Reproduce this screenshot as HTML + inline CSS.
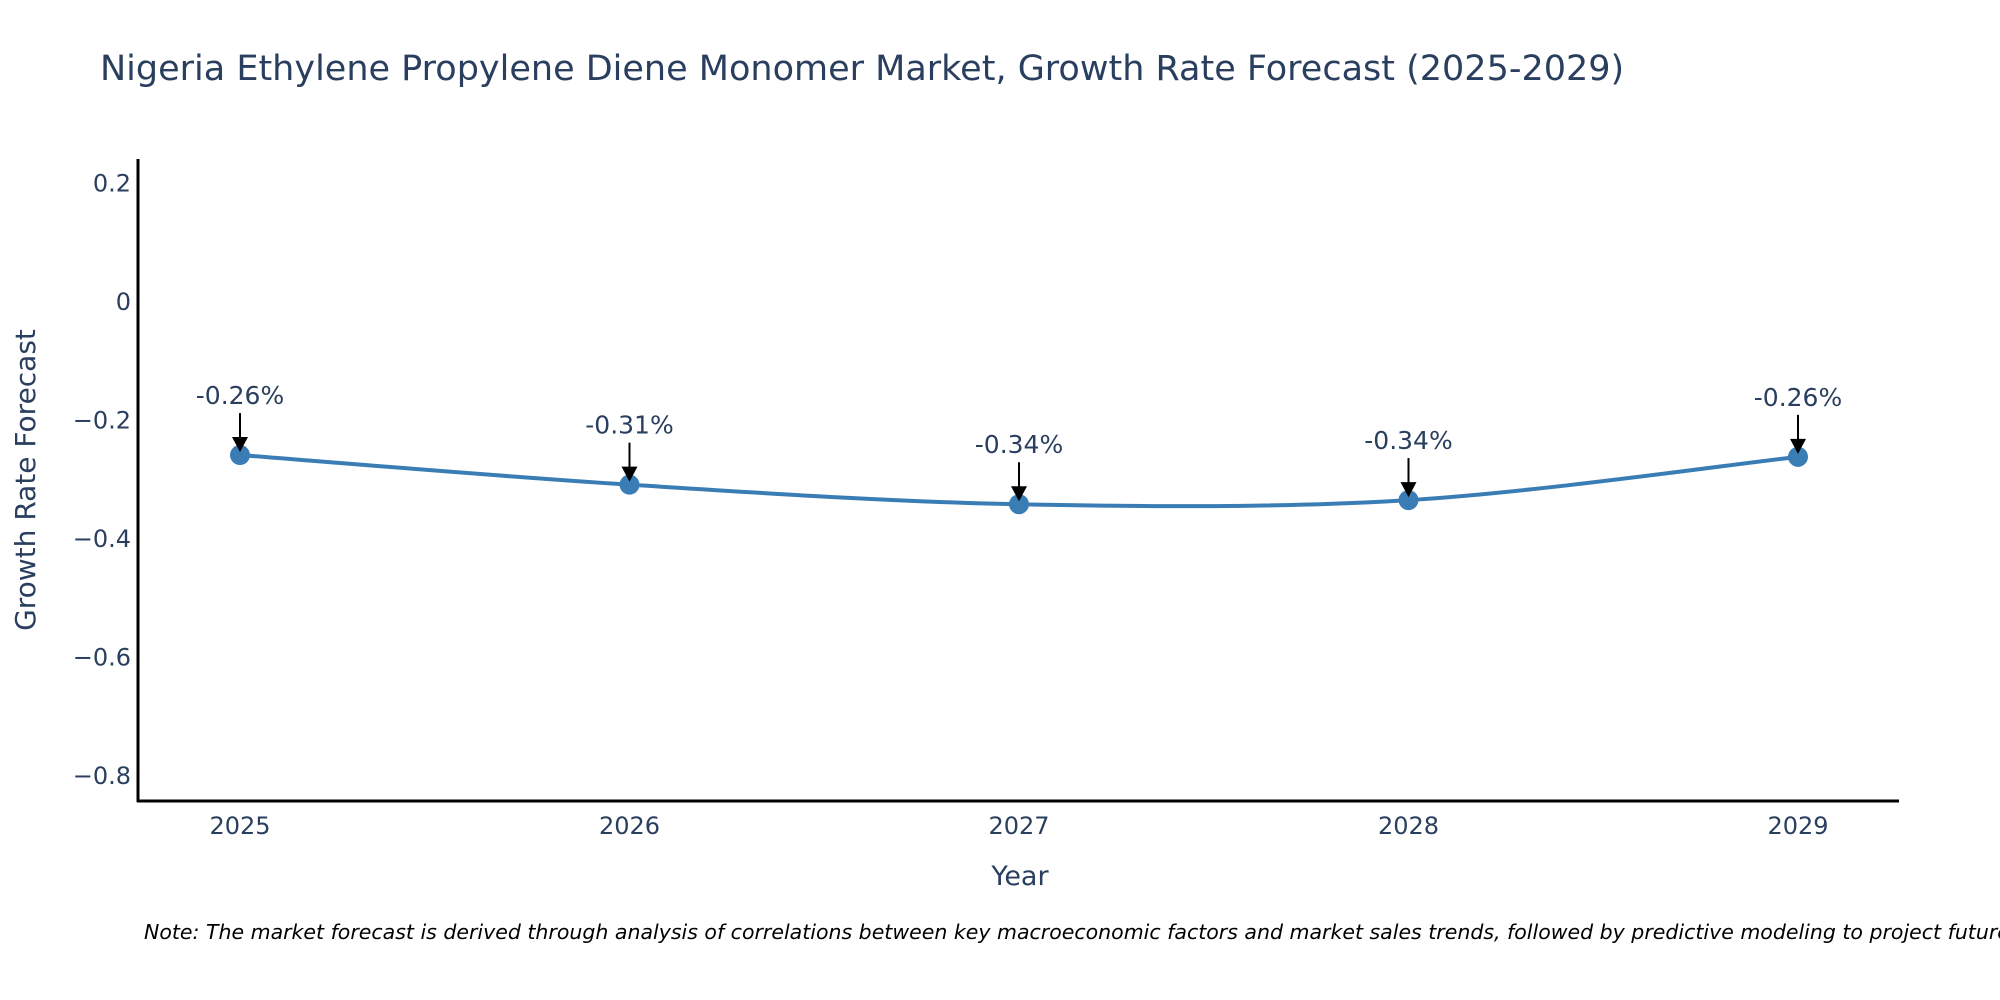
<!DOCTYPE html>
<html><head><meta charset="utf-8"><style>
body{margin:0;background:#fff;}
svg{display:block;font-family:"DejaVu Sans","Liberation Sans",sans-serif;}
</style></head><body>
<svg id="chart" width="2000" height="1000" viewBox="0 0 2000 1000">
<text x="100" y="80" font-size="35" fill="#2a3f5f">Nigeria Ethylene Propylene Diene Monomer Market, Growth Rate Forecast (2025-2029)</text>
<g id="yticks"></g><g id="xticks"></g>
<line x1="138" y1="159" x2="138" y2="802" stroke="#000" stroke-width="3"/>
<line x1="137" y1="801" x2="1899" y2="801" stroke="#000" stroke-width="3"/>
<g id="series"></g>
<text x="1020" y="885" font-size="27" fill="#2a3f5f" text-anchor="middle">Year</text>
<text transform="translate(35,480) rotate(-90)" font-size="28" fill="#2a3f5f" text-anchor="middle">Growth Rate Forecast</text>
<text x="144" y="939" font-size="20.5" font-style="italic" fill="#000">Note: The market forecast is derived through analysis of correlations between key macroeconomic factors and market sales trends, followed by predictive modeling to project future sales.</text>
</svg>
<script>
const years=[2025,2026,2027,2028,2029];
const values=[-0.26,-0.31,-0.343,-0.336,-0.263];
const labels=["-0.26%","-0.31%","-0.34%","-0.34%","-0.26%"];
const yTicks=[0.2,0,-0.2,-0.4,-0.6,-0.8];
const yTickLabels=["0.2","0","\u22120.2","\u22120.4","\u22120.6","\u22120.8"];
const NS="http://www.w3.org/2000/svg";
function X(i){return 240+i*389.5;}
function Y(v){return 301-v*592.5;}
function mk(t,a,p){const e=document.createElementNS(NS,t);for(const k in a)e.setAttribute(k,a[k]);p.appendChild(e);return e;}
const yt=document.getElementById('yticks');
yTicks.forEach((v,i)=>{const t=mk('text',{x:131,y:Y(v)+9,'font-size':24,fill:'#2a3f5f','text-anchor':'end'},yt);


t.textContent=yTickLabels[i];});
const xt=document.getElementById('xticks');
years.forEach((y,i)=>{const t=mk('text',{x:X(i),y:834,'font-size':24,fill:'#2a3f5f','text-anchor':'middle'},xt);


t.textContent=y;});
const s=document.getElementById('series');
const P=values.map((v,i)=>[X(i),Y(v)]);
let d='M'+P[0][0]+','+P[0][1];
for(let i=0;i<P.length-1;i++){const p0=P[Math.max(i-1,0)],p1=P[i],p2=P[i+1],p3=P[Math.min(i+2,P.length-1)];const k=1/6;
d+=' C'+(p1[0]+(p2[0]-p0[0])*k)+','+(p1[1]+(p2[1]-p0[1])*k)+' '+(p2[0]-(p3[0]-p1[0])*k)+','+(p2[1]-(p3[1]-p1[1])*k)+' '+p2[0]+','+p2[1];}
const line=mk('path',{d:d,fill:'none',stroke:'#3a7db5','stroke-width':4},s);


P.forEach((p,i)=>{
const c=mk('circle',{cx:p[0],cy:p[1],r:10,fill:'#3a7db5'},s);


const a=mk('line',{x1:p[0],y1:p[1]-42,x2:p[0],y2:p[1]-16,stroke:'#000','stroke-width':2},s);


const h=mk('polygon',{points:(p[0]-8)+','+(p[1]-18)+' '+(p[0]+8)+','+(p[1]-18)+' '+p[0]+','+(p[1]-3)},s);


const t=mk('text',{x:p[0],y:p[1]-51,'font-size':25,fill:'#2a3f5f','text-anchor':'middle'},s);


t.textContent=labels[i];});
</script>
</body></html>
